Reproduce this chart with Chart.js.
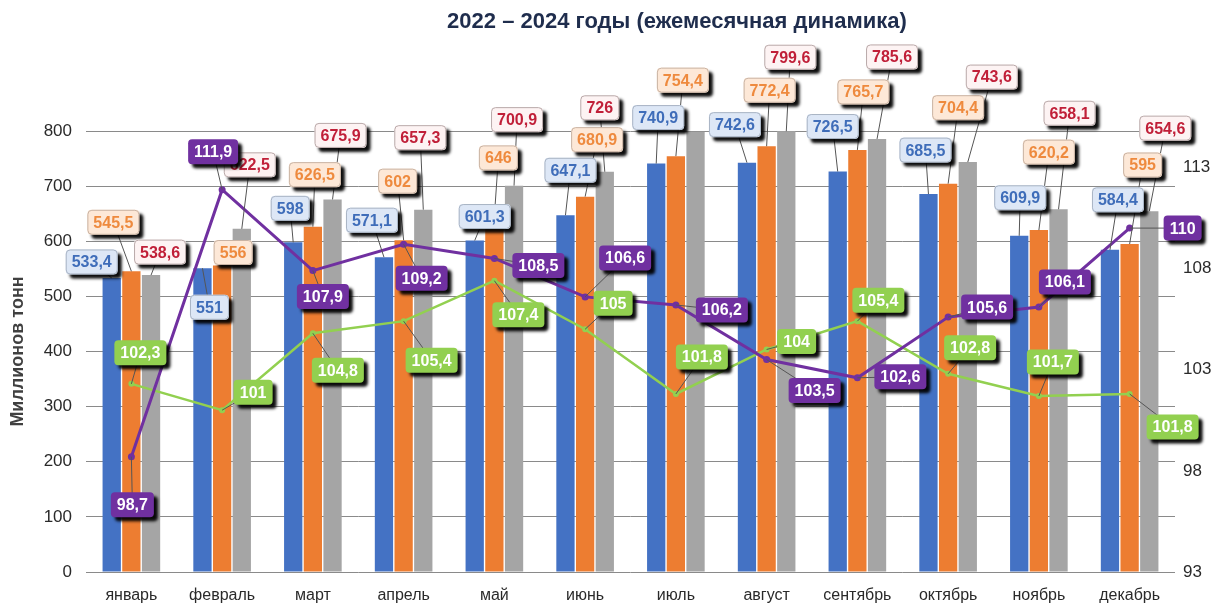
<!DOCTYPE html>
<html lang="ru">
<head>
<meta charset="utf-8">
<title>2022 – 2024 годы (ежемесячная динамика)</title>
<script src="https://cdn.jsdelivr.net/npm/chart.js@4.4.1/dist/chart.umd.min.js"></script>
<style>
  html, body { margin: 0; padding: 0; background: #fff; }
  #wrap { width: 1217px; height: 606px; position: relative; }
</style>
</head>
<body>
<div id="wrap"><canvas id="chart"></canvas></div>
<script>
// данные (млн тонн и индексы, %)
const months = ['январь', 'февраль', 'март', 'апрель', 'май', 'июнь',
                'июль', 'август', 'сентябрь', 'октябрь', 'ноябрь', 'декабрь'];
const vol2022 = [533.4, 551, 598, 571.1, 601.3, 647.1, 740.9, 742.6, 726.5, 685.5, 609.9, 584.4];
const vol2023 = [545.5, 556, 626.5, 602, 646, 680.9, 754.4, 772.4, 765.7, 704.4, 620.2, 595];
const vol2024 = [538.6, 622.5, 675.9, 657.3, 700.9, 726, 798.5, 799.6, 785.6, 743.6, 658.1, 654.6];
const idx2024 = [98.7, 111.9, 107.9, 109.2, 108.5, 106.6, 106.2, 103.5, 102.6, 105.6, 106.1, 110];
const idx2023 = [102.3, 101, 104.8, 105.4, 107.4, 105, 101.8, 104, 105.4, 102.8, 101.7, 101.8];
const leftTicks = [0, 100, 200, 300, 400, 500, 600, 700, 800];
const rightTicks = [93, 98, 103, 108, 113];

// сдвиги подписей относительно точки / верха столбца (в исходнике подписи передвинуты вручную)
const shift2022 = [[-20,-16],[7,39],[-3,-34],[-12,-37],[10,-24],[5,-45],[2,-46],[-12,-38],[-5,-45],[-3,-44],[1,-38],[8,-50]];
const shift2023 = [[-18,-49],[11,-13],[2,-52],[-6,-59],[4,-58],[12,-57],[7,-76],[3,-56],[6,-58],[10,-76],[10,-78],[13,-79]];
const shift2024 = [[9,-23],[8,-64],[8,-64],[-3,-72],[3,-66],[-5,-64],null,[4,-74],[15,-82],[24,-85],[11,-96],[16,-83]];
const shiftIdx24 = [[1,48],[-9,-38],[10,26],[18,34],[44,7],[40,-39],[46,5],[48,31],[43,-1],[39,-10],[26,-25],[53,0]];
const shiftIdx23 = [[9,-31],[31,-18],[25,37],[28,39],[24,34],[28,-26],[26,-37],[30,-8],[21,-21],[22,-26],[14,-34],[43,33]];

const sans = '"Liberation Sans", Arial, sans-serif';

const styleBlue = { fill: '#dde7f6', text: '#3f6db9', border: '#a9b4c4', z: 1 };
const styleOrange = { fill: '#fde8d7', text: '#ee8a3e', border: '#c9b3a3', z: 2 };
const styleRed = { fill: '#fdf3f3', text: '#c01f38', border: '#b9aaaa', z: 3 };
const styleGreen = { fill: '#92d050', text: '#ffffff', border: null, z: 4 };
const stylePurple = { fill: '#7030a0', text: '#ffffff', border: null, z: 5 };

function fmt(v) {
    return String(v).replace('.', ',');
}

function roundRect(ctx, x, y, w, h, r) {
    ctx.beginPath();
    ctx.moveTo(x + r, y);
    ctx.lineTo(x + w - r, y);
    ctx.quadraticCurveTo(x + w, y, x + w, y + r);
    ctx.lineTo(x + w, y + h - r);
    ctx.quadraticCurveTo(x + w, y + h, x + w - r, y + h);
    ctx.lineTo(x + r, y + h);
    ctx.quadraticCurveTo(x, y + h, x, y + h - r);
    ctx.lineTo(x, y + r);
    ctx.quadraticCurveTo(x, y, x + r, y);
    ctx.closePath();
}

// заголовок
const titlePlugin = {
    id: 'titleText',
    afterDraw(chart) {
        const ctx = chart.ctx;
        ctx.save();
        ctx.font = 'bold 22px ' + sans;
        ctx.fillStyle = '#1f2d4d';
        ctx.textAlign = 'center';
        ctx.textBaseline = 'middle';
        ctx.fillText('2022 – 2024 годы (ежемесячная динамика)', 677, 22);
        ctx.restore();
    }
};

// подписи данных в рамках с тенью
const tagPlugin = {
    id: 'tags',
    afterDatasetsDraw(chart) {
        const ctx = chart.ctx;
        ctx.save();
        ctx.font = 'bold 16px ' + sans;
        const boxes = [];
        chart.data.datasets.forEach((ds, di) => {
            const meta = chart.getDatasetMeta(di);
            ds.tagShift.forEach((s, i) => {
                if (!s) return;
                const el = meta.data[i];
                const text = fmt(ds.data[i]);
                const w = Math.round(ctx.measureText(text).width) + 12;
                const h = 25;
                boxes.push({ ax: el.x, ay: el.y, cx: el.x + s[0], cy: el.y + s[1], w: w, h: h, text: text, st: ds.tagStyle });
            });
        });

        // выноски
        ctx.strokeStyle = '#555';
        ctx.lineWidth = 1;
        boxes.forEach(b => {
            const inside = Math.abs(b.ax - b.cx) < b.w / 2 && Math.abs(b.ay - b.cy) < b.h / 2;
            if (inside) return;
            ctx.beginPath();
            ctx.moveTo(b.cx, b.cy);
            ctx.lineTo(b.ax, b.ay);
            ctx.stroke();
        });

        boxes.sort((a, b) => a.st.z - b.st.z);
        boxes.forEach(b => {
            const x = b.cx - b.w / 2, y = b.cy - b.h / 2;
            ctx.save();
            ctx.shadowColor = 'rgba(0,0,0,0.95)';
            ctx.shadowBlur = 3;
            ctx.shadowOffsetX = 4;
            ctx.shadowOffsetY = 4;
            ctx.fillStyle = b.st.fill;
            roundRect(ctx, x, y, b.w, b.h, 4);
            ctx.fill();
            ctx.restore();
            if (b.st.border) {
                ctx.strokeStyle = b.st.border;
                ctx.lineWidth = 1;
                roundRect(ctx, x + 0.5, y + 0.5, b.w - 1, b.h - 1, 4);
                ctx.stroke();
            }
            ctx.fillStyle = b.st.text;
            ctx.textAlign = 'center';
            ctx.textBaseline = 'middle';
            ctx.fillText(b.text, b.cx, b.cy + 1);
        });
        ctx.restore();
    }
};

const barDefaults = { categoryPercentage: 0.65, barPercentage: 0.93, yAxisID: 'y', order: 2 };

new Chart(document.getElementById('chart'), {
    data: {
        labels: months,
        datasets: [
            Object.assign({ type: 'bar', label: '2022', data: vol2022, backgroundColor: '#4472c4',
                tagShift: shift2022, tagStyle: styleBlue }, barDefaults),
            Object.assign({ type: 'bar', label: '2023', data: vol2023, backgroundColor: '#ed7d31',
                tagShift: shift2023, tagStyle: styleOrange }, barDefaults),
            Object.assign({ type: 'bar', label: '2024', data: vol2024, backgroundColor: '#a5a5a5',
                tagShift: shift2024, tagStyle: styleRed }, barDefaults),
            {
                type: 'line', label: '2023/2022, %', data: idx2023, yAxisID: 'y1', order: 1,
                borderColor: '#92d050', backgroundColor: '#92d050', borderWidth: 2.5,
                pointRadius: 3, pointBorderWidth: 0, tension: 0,
                tagShift: shiftIdx23, tagStyle: styleGreen
            },
            {
                type: 'line', label: '2024/2023, %', data: idx2024, yAxisID: 'y1', order: 0,
                borderColor: '#7030a0', backgroundColor: '#7030a0', borderWidth: 3,
                pointRadius: 3.5, pointBorderWidth: 0, tension: 0,
                tagShift: shiftIdx24, tagStyle: stylePurple
            }
        ]
    },
    options: {
        responsive: true,
        maintainAspectRatio: false,
        animation: false,
        layout: { padding: { top: 131, left: 0, right: 0, bottom: 0 } },
        plugins: {
            legend: { display: false },
            title: { display: false },
            tooltip: { enabled: false }
        },
        scales: {
            x: {
                grid: { display: false, drawTicks: false },
                border: { display: false },
                ticks: { font: { family: sans, size: 16 }, color: '#2a2a2a', padding: 14 },
                afterFit: s => { s.height = 34; }
            },
            y: {
                position: 'left',
                min: 0,
                max: 800,
                afterBuildTicks: s => { s.ticks = leftTicks.map(v => ({ value: v })); },
                grid: { color: '#8a8a8a', lineWidth: 1, drawTicks: false },
                border: { display: false },
                ticks: { font: { family: sans, size: 17 }, color: '#2a2a2a', padding: 14 },
                title: {
                    display: true, text: 'Миллионов тонн', color: '#404040',
                    font: { family: sans, size: 18, weight: 'bold' },
                    padding: { top: 7, bottom: 0 }
                },
                afterFit: s => { s.width = 86; }
            },
            y1: {
                position: 'right',
                min: 93,
                max: 114.8,
                afterBuildTicks: s => { s.ticks = rightTicks.map(v => ({ value: v })); },
                grid: { display: false, drawTicks: false },
                border: { display: false },
                ticks: { font: { family: sans, size: 17 }, color: '#2a2a2a', padding: 8 },
                afterFit: s => { s.width = 42; }
            }
        }
    },
    plugins: [tagPlugin, titlePlugin]
});
</script>
</body>
</html>
